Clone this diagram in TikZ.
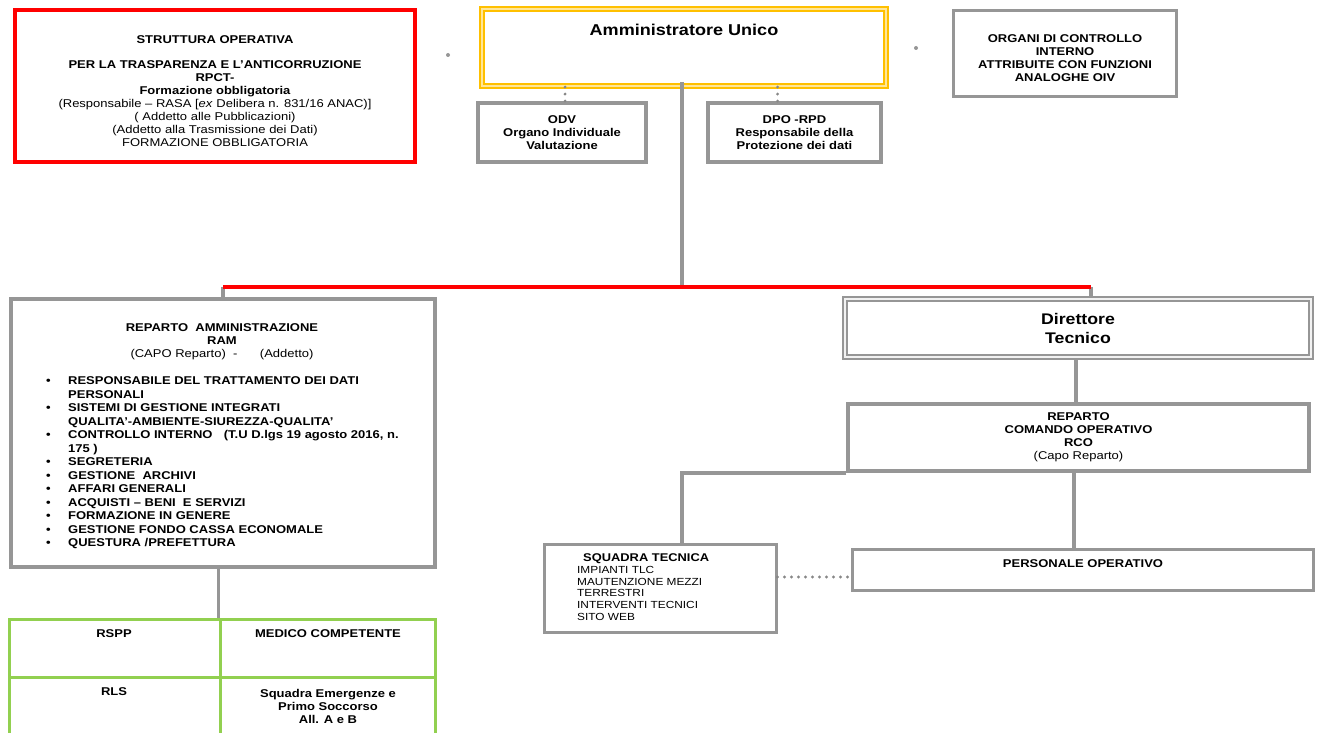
\documentclass[tikz,border=0pt]{standalone}
\usepackage{fontspec}
\setmainfont{Liberation Sans}[FakeStretch=1.15]
\usepackage{tikz}
\usetikzlibrary{positioning}
\definecolor{grigiolinea}{RGB}{150,150,150}
\definecolor{rossobox}{RGB}{255,0,0}
\definecolor{verdetab}{RGB}{146,208,80}
\definecolor{ambra}{RGB}{255,192,0}
\newcommand{\voce}[1]{\makebox[22pt][l]{\textbullet}#1}
\newcommand{\segue}[1]{\hspace*{22pt}#1}

\begin{document}
\begin{tikzpicture}[x=1pt, y=-1pt,
  riquadro/.style={draw=grigiolinea, line width=3.5pt, inner sep=0pt},
  cella/.style={draw=verdetab, line width=3pt, inner sep=0pt},
  testo/.style={inner sep=0pt, align=center, font=\fontsize{11.3}{13}\selectfont\bfseries},
  conn/.style={draw=grigiolinea, line width=3.5pt},
  punti/.style={draw=grigiolinea!90!black, line width=3.2pt, dash pattern=on 0pt off 7pt, line cap=round},
  pallino/.style={circle, fill=grigiolinea, inner sep=0pt, minimum size=4pt}
]
  \useasboundingbox (0,0) rectangle (1318,733);
  \clip (0,0) rectangle (1318,733);

  \node[riquadro, draw=rossobox, line width=4pt, minimum width=400pt, minimum height=152pt] (rpct) at (215,86) {};
  \node[testo] (rpcttxt) at (215,91) {STRUTTURA OPERATIVA\\[12pt]
    PER LA TRASPARENZA E L’ANTICORRUZIONE\\ RPCT-\\ Formazione obbligatoria\\
    \mdseries (Responsabile -- RASA [\textit{ex} Delibera n. 831/16 ANAC)]\\
    \mdseries ( Addetto alle Pubblicazioni)\\
    \mdseries (Addetto alla Trasmissione dei Dati)\\
    \mdseries FORMAZIONE OBBLIGATORIA};

  \node[riquadro, draw=ambra, double=ambra!40, double distance=2.5pt, line width=2.2pt,
        minimum width=404pt, minimum height=77pt] (amm) at (684,47.5) {};
  \node[testo, font=\fontsize{15.7}{18}\selectfont\bfseries] (ammtxt) at (684,30) {Amministratore Unico};

  \node[riquadro, testo, minimum width=168pt, minimum height=59pt] (odv) at (562,132.5)
        {ODV\\ Organo Individuale\\ Valutazione};
  \node[riquadro, testo, minimum width=173pt, minimum height=59pt] (dpo) at (794.5,132.5)
        {DPO -RPD\\ Responsabile della\\ Protezione dei dati};
  \node[riquadro, line width=3pt, minimum width=223pt, minimum height=86pt] (organi) at (1064.5,54) {};
  \node[testo] (organitxt) at (1065,58)
        {ORGANI DI CONTROLLO\\ INTERNO\\ ATTRIBUITE CON FUNZIONI\\ ANALOGHE OIV};

  \node[pallino] (dot1) at (448,55) {};
  \node[pallino] (dot2) at (916,48) {};

  \node[riquadro, line width=4pt, minimum width=424pt, minimum height=268pt] (ram) at (223,433) {};
  \node[testo] (ramtit) at (222,342) {REPARTO\ \ AMMINISTRAZIONE\\ RAM\\
    \mdseries (CAPO Reparto)\ \ -\qquad(Addetto)};
  \node[testo, align=left, anchor=west, font=\fontsize{11.3}{13.5}\selectfont\bfseries] (ramlist) at (46,463) {%
    \voce{RESPONSABILE DEL TRATTAMENTO DEI DATI}\\
    \segue{PERSONALI}\\
    \voce{SISTEMI DI GESTIONE INTEGRATI}\\
    \segue{QUALITA'-AMBIENTE-SIUREZZA-QUALITA'}\\
    \voce{CONTROLLO INTERNO\quad (T.U D.lgs 19 agosto 2016, n.}\\
    \segue{175 )}\\
    \voce{SEGRETERIA}\\
    \voce{GESTIONE\ \ ARCHIVI}\\
    \voce{AFFARI GENERALI}\\
    \voce{ACQUISTI -- BENI\ \ E SERVIZI}\\
    \voce{FORMAZIONE IN GENERE}\\
    \voce{GESTIONE FONDO CASSA ECONOMALE}\\
    \voce{QUESTURA /PREFETTURA}};

  \node[riquadro, testo, font=\fontsize{15.4}{19}\selectfont\bfseries, draw=grigiolinea, double=gray!10,
        double distance=1.6pt, line width=2.1pt, minimum width=466pt, minimum height=58pt] (dir) at (1078,328)
        {Direttore\\ Tecnico};
  \node[riquadro, testo, minimum width=461pt, minimum height=67pt] (rco) at (1078.5,437.5)
        {REPARTO\\ COMANDO OPERATIVO\\ RCO\\ \mdseries (Capo Reparto)};

  \node[riquadro, line width=3pt, minimum width=232pt, minimum height=88pt] (squadra) at (660,588) {};
  \node[testo, align=left, anchor=west, font=\fontsize{10.3}{11.7}\selectfont] (squadratxt) at (577,587)
        {\hspace*{6pt}\textbf{\fontsize{11.2}{11.7}\selectfont SQUADRA TECNICA}\\ IMPIANTI TLC\\
         MAUTENZIONE MEZZI\\ TERRESTRI\\ INTERVENTI TECNICI\\ SITO WEB};
  \node[riquadro, line width=3pt, minimum width=461pt, minimum height=41pt] (pers) at (1082.5,569.5) {};
  \node[testo] (perstxt) at (1083,564) {PERSONALE OPERATIVO};

  \node[cella, minimum width=211pt, minimum height=58pt] (rspp) at (114.5,648) {};
  \node[cella, minimum width=215pt, minimum height=58pt] (medico) at (327.5,648) {};
  \node[cella, minimum width=211pt, minimum height=66pt] (rls) at (114.5,710) {};
  \node[cella, minimum width=215pt, minimum height=66pt] (emerg) at (327.5,710) {};
  \node[testo] (rspptxt) at (114,634) {RSPP};
  \node[testo] (medicotxt) at (328,634) {MEDICO COMPETENTE};
  \node[testo] (rlstxt) at (114,692) {RLS};
  \node[testo] (emergtxt) at (328,706) {Squadra Emergenze e\\ Primo Soccorso\\ All. A e B};

  \coordinate (tronco) at (682,82);
  \coordinate (bus) at (682,287);
  \draw[conn] (tronco) -- (bus);
  \draw[conn] (ram.north |- bus) -- (ram.north);
  \draw[conn] ([xshift=13pt]dir.north |- bus) -- ([xshift=13pt]dir.north);
  \draw[draw=rossobox, line width=3.5pt] (ram.north |- bus) -- ([xshift=13pt]dir.north |- bus);

  \draw[punti] ([xshift=3pt]odv.north |- amm.south) -- ([xshift=3pt]odv.north);
  \draw[punti] ([xshift=-17pt]dpo.north |- amm.south) -- ([xshift=-17pt]dpo.north);

  \draw[conn] ([xshift=-2pt]dir.south) -- ([xshift=-2pt]dir.south |- rco.north);
  \draw[conn] (rco.south west) -| ([xshift=22pt]squadra.north);
  \draw[conn] ([xshift=-4.5pt]rco.south) -- ([xshift=-4.5pt]rco.south |- pers.north);
  \draw[punti] ([yshift=11pt]squadra.east) -- ([yshift=11pt]squadra.east -| pers.west);

  \draw[conn] (ram.south -| medico.north west) -- (medico.north west);
\end{tikzpicture}
\end{document}
